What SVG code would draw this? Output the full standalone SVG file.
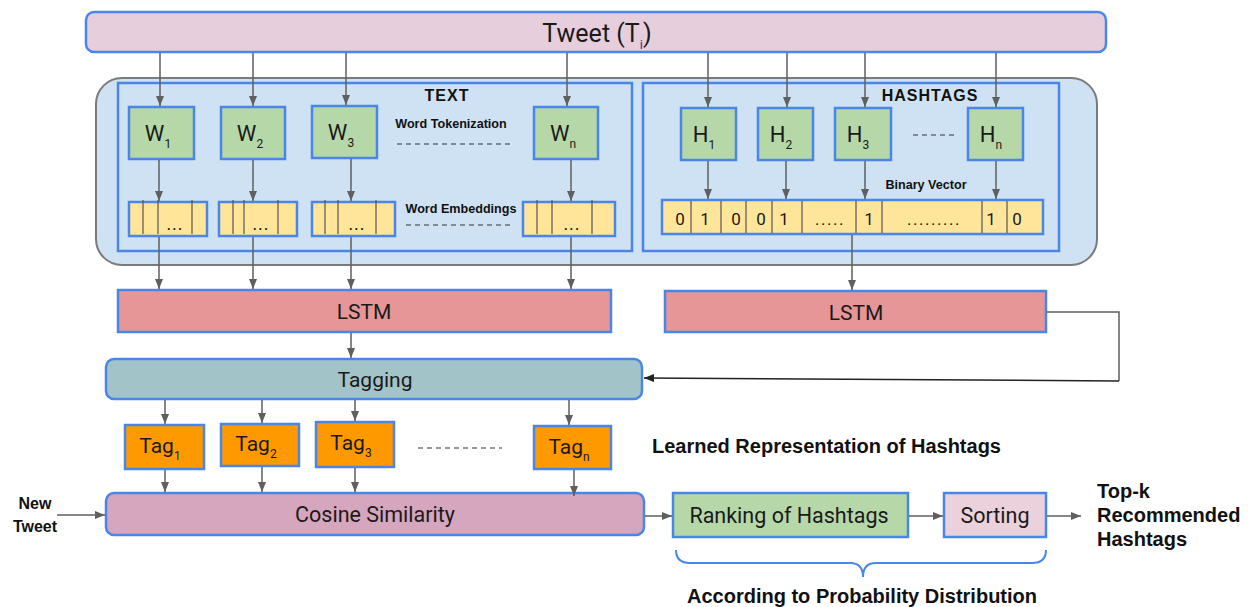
<svg xmlns="http://www.w3.org/2000/svg" width="1255" height="607" viewBox="0 0 1255 607">
  <defs>
    <marker id="ah" markerWidth="10" markerHeight="8" refX="10" refY="4" orient="auto" markerUnits="userSpaceOnUse">
      <path d="M0,0 L10,4 L0,8 z" fill="#5f5f5f"/>
    </marker>
    <marker id="ahk" markerWidth="10" markerHeight="8" refX="10" refY="4" orient="auto" markerUnits="userSpaceOnUse">
      <path d="M0,0 L10,4 L0,8 z" fill="#222"/>
    </marker>
  </defs>
  <style>
    .box { stroke: #4a86e8; stroke-width: 2.5; }
    .lbl { font-family: Roboto, "Liberation Sans", sans-serif; fill: #1a1a1a; text-anchor: middle; }
    .bold { font-family: "Liberation Sans", Arial, sans-serif; font-weight: bold; fill: #111; }
    .small { font-family: "Liberation Sans", Arial, sans-serif; font-weight: bold; font-size: 12.6px; fill: #111; text-anchor: middle; }
    .arr { stroke: #5f5f5f; stroke-width: 1.5; fill: none; marker-end: url(#ah); }
    .ln { stroke: #5f5f5f; stroke-width: 1.5; fill: none; }
    .dash { stroke: #333; stroke-width: 1.2; stroke-dasharray: 5 4; }
    .word { fill: #b6d7a8; }
    .emb { fill: #ffe599; }
    .cell { stroke: #555; stroke-width: 1.2; }
    .tag { fill: #ff9900; }
    .sub { font-size: 12px; }
  </style>

  <!-- input tweet -->
  <g id="tweet">
    <rect class="box" x="86" y="12" width="1020" height="40" rx="8" fill="#e6cedd"/>
    <text class="lbl" x="597" y="42" font-size="25">Tweet (T<tspan dy="7" font-size="13" fill="#5b2a86">i</tspan><tspan dy="-7">)</tspan></text>
  </g>

  <!-- preprocessing container -->
  <g id="preprocess">
    <rect x="96" y="78" width="1001" height="187" rx="26" fill="#cfe2f3" stroke="#7a7a7a" stroke-width="2"/>
  </g>

  <g id="text-panel">
    <rect class="box" x="118" y="83" width="514" height="168" fill="#cfe2f3"/>
    <text class="bold" x="447" y="101" font-size="16" text-anchor="middle" letter-spacing="1">TEXT</text>
    <text class="small" x="451" y="128">Word Tokenization</text>
    <line class="dash" x1="397" y1="144" x2="513" y2="144"/>
    <text class="small" x="461" y="213">Word Embeddings</text>
    <line class="dash" x1="406" y1="225" x2="511" y2="225"/>
  </g>

  <g id="w1">
    <rect class="box word" x="129" y="107" width="65" height="52"/>
    <text class="lbl" x="158" y="141" font-size="22">W<tspan class="sub" dy="7">1</tspan></text>
  </g>
  <g id="w2">
    <rect class="box word" x="221" y="107" width="64" height="52"/>
    <text class="lbl" x="250" y="141" font-size="22">W<tspan class="sub" dy="7">2</tspan></text>
  </g>
  <g id="w3">
    <rect class="box word" x="312" y="106" width="65" height="52"/>
    <text class="lbl" x="341" y="140" font-size="22">W<tspan class="sub" dy="7">3</tspan></text>
  </g>
  <g id="wn">
    <rect class="box word" x="534" y="107" width="64" height="52"/>
    <text class="lbl" x="563" y="141" font-size="22">W<tspan class="sub" dy="7">n</tspan></text>
  </g>

  <g id="e1">
    <rect class="box emb" x="129" y="202" width="78" height="34"/>
    <line class="cell" x1="143" y1="200" x2="143" y2="234"/>
    <line class="cell" x1="158" y1="200" x2="158" y2="234"/>
    <line class="cell" x1="192" y1="200" x2="192" y2="234"/>
    <text class="lbl" x="175" y="230" font-size="18" letter-spacing="1">...</text>
  </g>
  <g id="e2">
    <rect class="box emb" x="219" y="202" width="78" height="34"/>
    <line class="cell" x1="233" y1="200" x2="233" y2="234"/>
    <line class="cell" x1="244" y1="200" x2="244" y2="234"/>
    <line class="cell" x1="278" y1="200" x2="278" y2="234"/>
    <text class="lbl" x="261" y="230" font-size="18" letter-spacing="1">...</text>
  </g>
  <g id="e3">
    <rect class="box emb" x="312" y="202" width="83" height="34"/>
    <line class="cell" x1="325" y1="200" x2="325" y2="234"/>
    <line class="cell" x1="338" y1="200" x2="338" y2="234"/>
    <line class="cell" x1="376" y1="200" x2="376" y2="234"/>
    <text class="lbl" x="357" y="230" font-size="18" letter-spacing="1">...</text>
  </g>
  <g id="en">
    <rect class="box emb" x="523" y="202" width="92" height="34"/>
    <line class="cell" x1="537" y1="200" x2="537" y2="234"/>
    <line class="cell" x1="552" y1="200" x2="552" y2="234"/>
    <line class="cell" x1="592" y1="200" x2="592" y2="234"/>
    <text class="lbl" x="572" y="230" font-size="18" letter-spacing="1">...</text>
  </g>

  <g id="hashtag-panel">
    <rect class="box" x="643" y="83" width="416" height="168" fill="#cfe2f3"/>
    <text class="bold" x="930" y="101" font-size="16" text-anchor="middle" letter-spacing="1">HASHTAGS</text>
    <line class="dash" x1="913" y1="135" x2="955" y2="135"/>
    <text class="small" x="926" y="189">Binary Vector</text>
  </g>

  <g id="h1">
    <rect class="box word" x="681" y="108" width="55" height="52"/>
    <text class="lbl" x="704" y="142" font-size="22">H<tspan class="sub" dy="7">1</tspan></text>
  </g>
  <g id="h2">
    <rect class="box word" x="758" y="108" width="55" height="52"/>
    <text class="lbl" x="781" y="142" font-size="22">H<tspan class="sub" dy="7">2</tspan></text>
  </g>
  <g id="h3">
    <rect class="box word" x="835" y="108" width="56" height="52"/>
    <text class="lbl" x="858" y="142" font-size="22">H<tspan class="sub" dy="7">3</tspan></text>
  </g>
  <g id="hn">
    <rect class="box word" x="968" y="108" width="55" height="52"/>
    <text class="lbl" x="991" y="142" font-size="22">H<tspan class="sub" dy="7">n</tspan></text>
  </g>

  <g id="binary-vector">
    <rect class="box emb" x="662" y="200" width="381" height="34"/>
    <g class="cell">
      <line x1="691" y1="201" x2="691" y2="233"/>
      <line x1="721" y1="201" x2="721" y2="233"/>
      <line x1="746" y1="201" x2="746" y2="233"/>
      <line x1="772" y1="201" x2="772" y2="233"/>
      <line x1="802" y1="201" x2="802" y2="233"/>
      <line x1="856" y1="201" x2="856" y2="233"/>
      <line x1="882" y1="201" x2="882" y2="233"/>
      <line x1="982" y1="201" x2="982" y2="233"/>
      <line x1="1007" y1="201" x2="1007" y2="233"/>
    </g>
    <g class="lbl" font-size="17">
      <text x="680" y="225">0</text>
      <text x="705" y="225">1</text>
      <text x="736" y="225">0</text>
      <text x="761" y="225">0</text>
      <text x="784" y="225">1</text>
      <text x="830" y="225" letter-spacing="1.5">.....</text>
      <text x="869" y="225">1</text>
      <text x="934" y="225" letter-spacing="1.5">.........</text>
      <text x="991" y="225">1</text>
      <text x="1017" y="225">0</text>
    </g>
  </g>

  <!-- encoders -->
  <g id="lstm-text">
    <rect class="box" x="118" y="290" width="493" height="42" fill="#e69696"/>
    <text class="lbl" x="364" y="319" font-size="21">LSTM</text>
  </g>
  <g id="lstm-hashtag">
    <rect class="box" x="665" y="291" width="381" height="41" fill="#e69696"/>
    <text class="lbl" x="856" y="320" font-size="21">LSTM</text>
  </g>

  <g id="tagging">
    <rect class="box" x="106" y="359" width="536" height="40" rx="8" fill="#a2c4c9"/>
    <text class="lbl" x="375" y="387" font-size="21">Tagging</text>
  </g>

  <g id="tag1">
    <rect class="box tag" x="125" y="425" width="79" height="44"/>
    <text class="lbl" x="160" y="453" font-size="21">Tag<tspan class="sub" dy="7">1</tspan></text>
  </g>
  <g id="tag2">
    <rect class="box tag" x="221" y="424" width="78" height="42"/>
    <text class="lbl" x="256" y="451" font-size="21">Tag<tspan class="sub" dy="7">2</tspan></text>
  </g>
  <g id="tag3">
    <rect class="box tag" x="316" y="422" width="78" height="45"/>
    <text class="lbl" x="351" y="450" font-size="21">Tag<tspan class="sub" dy="7">3</tspan></text>
  </g>
  <g id="tagn">
    <rect class="box tag" x="534" y="426" width="77" height="43"/>
    <text class="lbl" x="569" y="454" font-size="21">Tag<tspan class="sub" dy="7">n</tspan></text>
  </g>
  <line class="dash" x1="418" y1="448" x2="502" y2="448"/>

  <g id="learned-label">
    <text class="bold" x="652" y="453" font-size="20">Learned Representation of Hashtags</text>
  </g>

  <g id="new-tweet">
    <text class="bold" x="35" y="509" font-size="16" text-anchor="middle">New</text>
    <text class="bold" x="35" y="532" font-size="16" text-anchor="middle">Tweet</text>
  </g>

  <g id="cosine">
    <rect class="box" x="106" y="493" width="538" height="42" rx="8" fill="#d5a6bd"/>
    <text class="lbl" x="375" y="522" font-size="21.5">Cosine Similarity</text>
  </g>

  <g id="ranking">
    <rect class="box" x="673" y="493" width="235" height="44" fill="#b6d7a8"/>
    <text class="lbl" x="789" y="523" font-size="21.5">Ranking of Hashtags</text>
  </g>

  <g id="sorting">
    <rect class="box" x="944" y="493" width="102" height="44" fill="#ead1dc"/>
    <text class="lbl" x="995" y="523" font-size="21.5">Sorting</text>
  </g>

  <g id="output">
    <text class="bold" x="1097" y="498" font-size="20">Top-k</text>
    <text class="bold" x="1097" y="522" font-size="20">Recommended</text>
    <text class="bold" x="1097" y="546" font-size="20">Hashtags</text>
  </g>

  <g id="distribution">
    <path d="M676,550 Q676,563 690,563 L850,563 Q863,563 863,577 Q863,563 876,563 L1032,563 Q1046,563 1046,550" fill="none" stroke="#4a86e8" stroke-width="2"/>
    <text class="bold" x="862" y="603" font-size="20" text-anchor="middle">According to Probability Distribution</text>
  </g>

  <!-- connectors -->
  <g id="connectors">
    <!-- tweet to tokens -->
    <line class="arr" x1="160" y1="53" x2="160" y2="106"/>
    <line class="arr" x1="253" y1="53" x2="253" y2="106"/>
    <line class="arr" x1="346" y1="53" x2="346" y2="105"/>
    <line class="arr" x1="567" y1="53" x2="567" y2="106"/>
    <line class="arr" x1="708" y1="53" x2="708" y2="107"/>
    <line class="arr" x1="787" y1="53" x2="787" y2="107"/>
    <line class="arr" x1="865" y1="53" x2="865" y2="107"/>
    <line class="arr" x1="996" y1="53" x2="996" y2="107"/>
    <!-- tokens to embeddings -->
    <line class="arr" x1="159" y1="160" x2="159" y2="201"/>
    <line class="arr" x1="253" y1="160" x2="253" y2="201"/>
    <line class="arr" x1="351" y1="159" x2="351" y2="201"/>
    <line class="arr" x1="571" y1="160" x2="571" y2="201"/>
    <line class="arr" x1="708" y1="161" x2="708" y2="199"/>
    <line class="arr" x1="786" y1="161" x2="786" y2="199"/>
    <line class="arr" x1="865" y1="161" x2="865" y2="199"/>
    <line class="arr" x1="996" y1="161" x2="996" y2="199"/>
    <!-- embeddings to encoders -->
    <line class="arr" x1="159" y1="237" x2="159" y2="289"/>
    <line class="arr" x1="253" y1="237" x2="253" y2="289"/>
    <line class="arr" x1="351" y1="237" x2="351" y2="289"/>
    <line class="arr" x1="571" y1="237" x2="571" y2="289"/>
    <line class="arr" x1="852" y1="235" x2="852" y2="290"/>
    <!-- encoders to tagging -->
    <line class="arr" x1="351" y1="333" x2="351" y2="358"/>
    <path class="ln" d="M1047,312 H1119 V381"/>
    <line x1="1119" y1="381" x2="644" y2="378" stroke="#222" stroke-width="1.5" marker-end="url(#ahk)"/>
    <!-- tagging to tags -->
    <line class="arr" x1="165" y1="400" x2="165" y2="424"/>
    <line class="arr" x1="262" y1="400" x2="262" y2="423"/>
    <line class="arr" x1="355" y1="400" x2="355" y2="421"/>
    <line class="arr" x1="569" y1="400" x2="569" y2="425"/>
    <!-- tags to similarity -->
    <line class="arr" x1="165" y1="470" x2="165" y2="492"/>
    <line class="arr" x1="262" y1="467" x2="262" y2="492"/>
    <line class="arr" x1="355" y1="468" x2="355" y2="492"/>
    <line class="arr" x1="574" y1="470" x2="574" y2="496"/>
    <!-- ranking pipeline -->
    <line class="arr" x1="57" y1="515" x2="105" y2="515"/>
    <line class="arr" x1="645" y1="516" x2="672" y2="516"/>
    <line class="arr" x1="909" y1="516" x2="943" y2="516"/>
    <line class="arr" x1="1047" y1="516" x2="1081" y2="516"/>
  </g>
</svg>
